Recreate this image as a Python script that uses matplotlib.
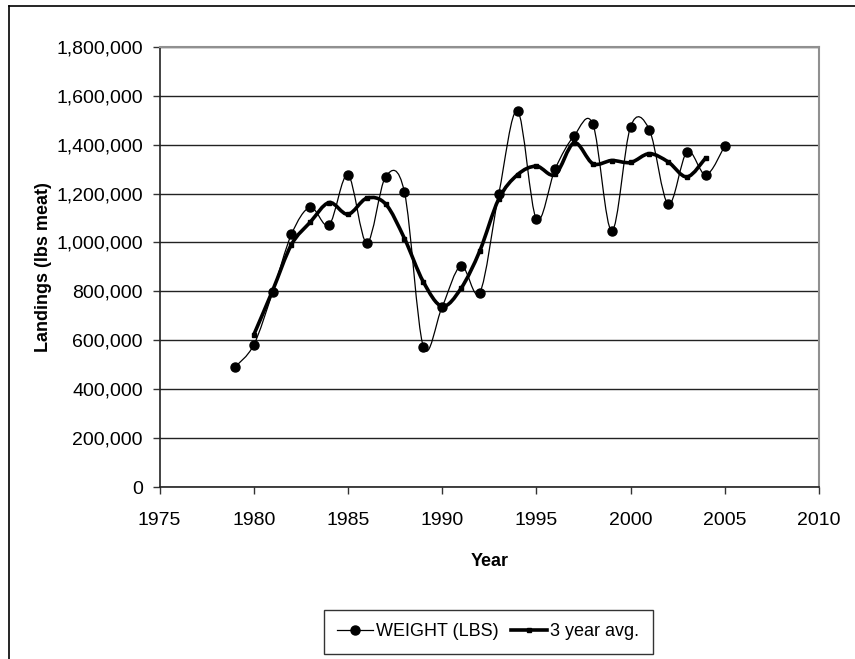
import numpy as np
import matplotlib.pyplot as plt
from matplotlib.path import Path
from matplotlib.patches import PathPatch
from matplotlib.lines import Line2D
from matplotlib.ticker import FuncFormatter

plt.rcParams['font.family'] = ['Liberation Sans', 'DejaVu Sans']

# Data
years = [1979, 1980, 1981, 1982, 1983, 1984, 1985, 1986, 1987, 1988, 1989,
         1990, 1991, 1992, 1993, 1994, 1995, 1996, 1997, 1998, 1999, 2000,
         2001, 2002, 2003, 2004, 2005]
weight = [490000, 581000, 796000, 1033000, 1144000, 1072000, 1276000, 998000,
          1269000, 1205000, 574000, 737000, 905000, 795000, 1197000, 1538000,
          1096000, 1301000, 1436000, 1483000, 1047000, 1474000, 1460000,
          1156000, 1371000, 1276000, 1395000]

avg_years = [1980, 1981, 1982, 1983, 1984, 1985, 1986, 1987, 1988, 1989, 1990,
             1991, 1992, 1993, 1994, 1995, 1996, 1997, 1998, 1999, 2000, 2001,
             2002, 2003, 2004]
avg3 = [622000, 803000, 991000, 1083000, 1163000, 1115000, 1181000, 1157000,
        1016000, 839000, 739000, 812000, 966000, 1177000, 1277000, 1312000,
        1278000, 1407000, 1322000, 1335000, 1327000, 1363000, 1329000,
        1268000, 1347000]


def smooth_path(x, y):
    # Excel-style smoothed line: cubic bezier through the points
    pts = np.column_stack([x, y]).astype(float)
    n = len(pts)
    verts = [pts[0]]
    codes = [Path.MOVETO]
    for i in range(n - 1):
        p0 = pts[i - 1] if i > 0 else pts[i]
        p1 = pts[i]
        p2 = pts[i + 1]
        p3 = pts[i + 2] if i + 2 < n else pts[i + 1]
        c1 = p1 + (p2 - p0) / 6.0
        c2 = p2 - (p3 - p1) / 6.0
        verts += [c1, c2, p2]
        codes += [Path.CURVE4] * 3
    return Path(verts, codes)


fig = plt.figure(figsize=(8.55, 6.59), dpi=100)
ax = fig.add_axes([0.1866, 0.261, 0.7713, 0.668])

ax.yaxis.grid(True, color='#222222', linewidth=1.0)
ax.set_axisbelow(True)

ax.add_patch(PathPatch(smooth_path(years, weight), facecolor='none',
                       edgecolor='black', linewidth=0.9, zorder=3))
ax.plot(years, weight, linestyle='none', marker='o', markersize=6.5,
        color='black', zorder=4)

ax.add_patch(PathPatch(smooth_path(avg_years, avg3), facecolor='none',
                       edgecolor='black', linewidth=2.6, zorder=5))
ax.plot(avg_years, avg3, linestyle='none', marker='s', markersize=2.5,
        color='black', zorder=6)

ax.set_xlim(1975, 2010)
ax.set_ylim(0, 1800000)
ax.set_xticks(np.arange(1975, 2011, 5))
ax.set_yticks(np.arange(0, 1800001, 200000))
ax.yaxis.set_major_formatter(FuncFormatter(lambda v, p: '{:,.0f}'.format(v)))
ax.tick_params(axis='both', labelsize=14, length=5, width=1, color='#333333')
ax.tick_params(axis='y', pad=7)
ax.tick_params(axis='x', pad=13)

for side in ['left', 'bottom']:
    ax.spines[side].set_color('#222222')
    ax.spines[side].set_linewidth(1.2)
for side in ['top', 'right']:
    ax.spines[side].set_color('#909090')
    ax.spines[side].set_linewidth(1.5)

ax.set_xlabel('Year', fontsize=13, fontweight='bold', labelpad=17)
ax.set_ylabel('Landings (lbs meat)', fontsize=13, fontweight='bold',
              labelpad=3)

h1 = Line2D([], [], color='black', linewidth=0.9, marker='o', markersize=6.5)
h2 = Line2D([], [], color='black', linewidth=2.6, marker='s', markersize=2.5)
leg = fig.legend([h1, h2], ['WEIGHT (LBS)', '3 year avg.'], loc='center',
                 bbox_to_anchor=(0.571, 0.041), ncol=2, fontsize=13,
                 frameon=True, fancybox=False, handlelength=2.0,
                 handletextpad=0.15, columnspacing=0.7, borderpad=0.75,
                 borderaxespad=0)
leg.get_frame().set_edgecolor('black')
leg.get_frame().set_linewidth(1.0)

# chart area border (top and left edges visible)
fig.add_artist(Line2D([9 / 855, 9 / 855], [0, 1 - 6 / 659], color='black',
                      linewidth=1.2, transform=fig.transFigure))
fig.add_artist(Line2D([9 / 855, 1], [1 - 6 / 659, 1 - 6 / 659], color='black',
                      linewidth=1.2, transform=fig.transFigure))

fig.savefig('out.png', dpi=100)
